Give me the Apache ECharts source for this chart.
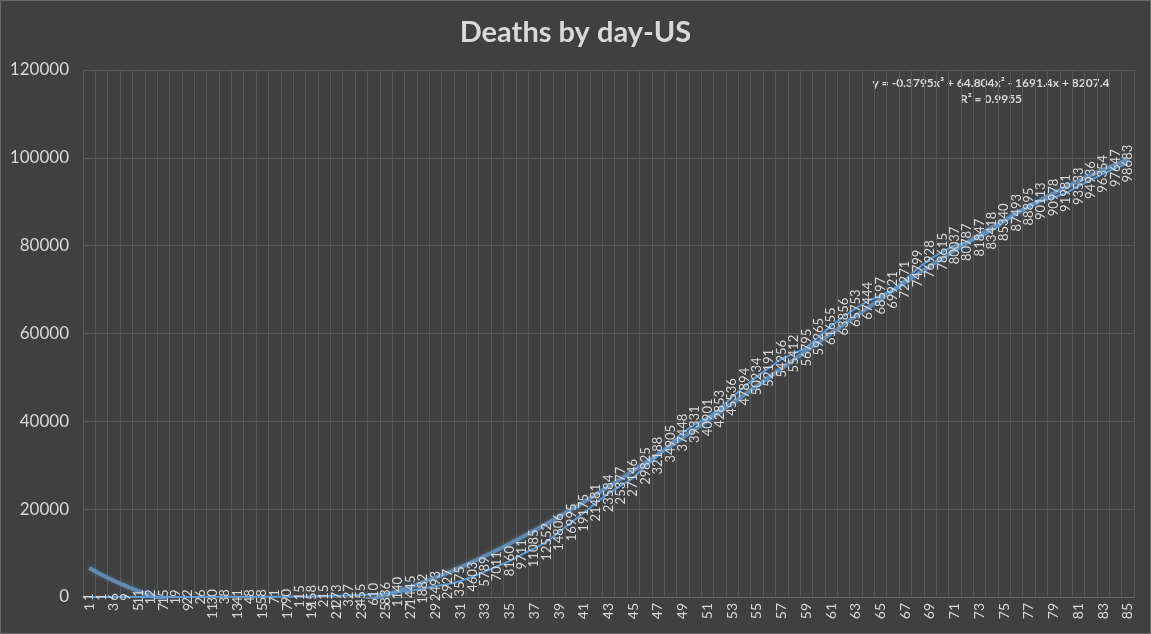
<!DOCTYPE html>
<html>
<head>
<meta charset="utf-8">
<script src="https://cdn.jsdelivr.net/npm/echarts@6/dist/echarts.min.js"></script>
<style>
html,body{margin:0;padding:0;background:#404040;}
#chart{width:1151px;height:634px;box-sizing:border-box;border:1px solid #6a6a6a;}
</style>
</head>
<body>
<div id="chart"></div>
<script>
const chartTitle = 'Deaths by day-US';
const days = Array.from({length: 85}, (_, i) => String(i + 1));
const deaths = [
  1, 1, 6, 9, 11, 12, 15, 19, 22, 26,
  30, 38, 41, 48, 58, 71, 90, 115, 158, 215,
  273, 327, 455, 610, 836, 1140, 1445, 1882, 2493, 2927,
  3575, 4603, 5789, 7011, 8160, 9711, 11085, 12552, 14806, 16995,
  19175, 21481, 23584, 25377, 27146, 29825, 32188, 34905, 37448, 39331,
  40901, 42853, 45536, 47894, 50234, 52191, 54256, 55412, 56795, 59265,
  61655, 63856, 65753, 67444, 68597, 69921, 72271, 74799, 76928, 78615,
  80037, 80787, 81847, 83418, 85340, 87493, 88895, 90113, 90978, 91981,
  93533, 94936, 96354, 97647, 98683
];
// Excel cubic trendline coefficients as printed on the chart (x^3, x^2, x, const)
const trendCoefficients = [-0.3795, 64.804, -1691.4, 8207.4];
const trendEquation = 'y = -0.3795x³ + 64.804x² - 1691.4x + 8207.4';
const trendR2 = 'R² = 0.9955';
const yTicks = [0, 20000, 40000, 60000, 80000, 100000, 120000];

const trend = days.map((d) => {
  const x = Number(d);
  const [a, b, c, k] = trendCoefficients;
  return a * x * x * x + b * x * x + c * x + k;
});

const txt = '#d9d9d9';
const font = 'Lato, "Open Sans", sans-serif';
const chart = echarts.init(document.getElementById('chart'));
chart.setOption({
  backgroundColor: '#404040',
  animation: false,
  title: {
    text: chartTitle, left: 'center', top: 12,
    textStyle: {color: txt, fontSize: 29, fontWeight: 'bold', fontFamily: font}
  },
  grid: {left: 82, right: 16, top: 69, bottom: 36, containLabel: false},
  xAxis: {
    type: 'category', data: days, boundaryGap: true,
    axisLine: {lineStyle: {color: '#6b6b6b'}},
    axisTick: {show: false},
    axisLabel: {color: txt, fontSize: 14, fontFamily: font, rotate: 90, interval: 1, margin: 6},
    splitLine: {show: true, interval: 0, lineStyle: {color: '#575757', width: 1}}
  },
  yAxis: {
    type: 'value', min: yTicks[0], max: yTicks[yTicks.length - 1], interval: yTicks[1] - yTicks[0],
    axisLine: {show: false}, axisTick: {show: false},
    axisLabel: {color: txt, fontSize: 17, fontFamily: font, margin: 14, formatter: (v) => String(v)},
    splitLine: {lineStyle: {color: '#595959', width: 1}}
  },
  series: [
    {
      name: 'Trend', type: 'line', data: trend, smooth: true, clip: true,
      symbol: 'none', z: 2,
      lineStyle: {color: 'rgba(110,160,210,0.7)', width: 4,
        shadowColor: 'rgba(91,155,213,0.6)', shadowBlur: 4}
    },
    {
      name: 'Deaths', type: 'line', data: deaths, z: 3,
      symbol: 'circle', symbolSize: 1, showSymbol: true,
      itemStyle: {color: '#5b9bd5'},
      lineStyle: {color: '#5b9bd5', width: 2},
      label: {
        show: true, position: 'inside', rotate: 90, color: txt,
        fontSize: 13, fontFamily: font, align: 'center', verticalAlign: 'middle'
      },
      labelLayout: {hideOverlap: false}
    }
  ],
  graphic: [
    {type: 'text', x: 990, y: 76,
      style: {text: trendEquation, fill: txt, font: 'bold 12px ' + font, textAlign: 'center'}},
    {type: 'text', x: 990, y: 92,
      style: {text: trendR2, fill: txt, font: 'bold 12px ' + font, textAlign: 'center'}}
  ]
});
</script>
</body>
</html>
